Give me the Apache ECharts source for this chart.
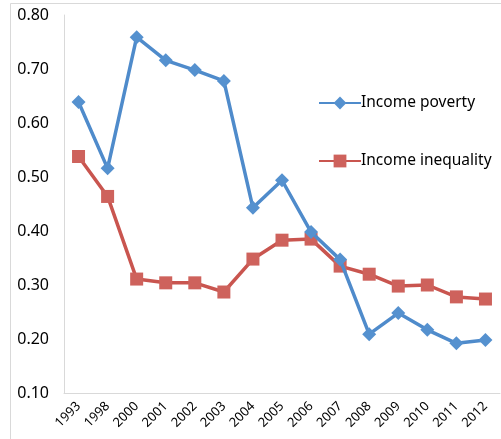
<!DOCTYPE html>
<html><head><meta charset="utf-8">
<script src="https://cdn.jsdelivr.net/npm/echarts@6/dist/echarts.min.js"></script>
<style>html,body{margin:0;padding:0;background:#fff}#c{width:501px;height:439px}</style>
</head><body><div id="c"></div>
<script>
var years = ['1993','1998','2000','2001','2002','2003','2004','2005','2006','2007','2008','2009','2010','2011','2012'];
var incomePoverty = [0.639, 0.516, 0.759, 0.716, 0.698, 0.678, 0.443, 0.494, 0.398, 0.347, 0.209, 0.248, 0.217, 0.192, 0.198];
var incomeInequality = [0.538, 0.464, 0.311, 0.304, 0.304, 0.287, 0.348, 0.383, 0.385, 0.335, 0.320, 0.298, 0.300, 0.278, 0.274];
var yTicks = [0.1, 0.8, 0.1]; // min, max, interval

var font = 'Noto Sans, Open Sans, sans-serif';
var chart = echarts.init(document.getElementById('c'), null, {renderer:'canvas'});
chart.setOption({
  animation:false,
  backgroundColor:'#fff',
  graphic:[{type:'rect', shape:{x:10.5,y:3.5,width:500,height:450}, style:{fill:'none',stroke:'#D9D9D9',lineWidth:1}, silent:true}],
  grid:{left:64, right:1, top:15, bottom:46, containLabel:false},
  legend:{
    orient:'vertical', left:313, top:90, itemGap:42, itemWidth:42, itemHeight:16, padding:5,
    textStyle:{fontFamily:font, fontSize:15.5, color:'#000', padding:[0,0,0,-5]},
    data:['Income poverty','Income inequality']
  },
  xAxis:{
    type:'category', data:years, boundaryGap:true,
    axisLine:{lineStyle:{color:'#D9D9D9',width:1}},
    axisTick:{show:false},
    axisLabel:{rotate:45, interval:0, color:'#000', fontFamily:font, fontSize:13, margin:11}
  },
  yAxis:{
    type:'value', min:yTicks[0], max:yTicks[1], interval:yTicks[2],
    axisLine:{show:true, lineStyle:{color:'#D9D9D9',width:1}},
    axisTick:{show:false},
    splitLine:{show:false},
    axisLabel:{color:'#000', fontFamily:font, fontSize:16, margin:15, formatter:function(v){return v.toFixed(2);}}
  },
  series:[
    {name:'Income poverty', type:'line', data:incomePoverty, symbol:'diamond', symbolSize:14,
     lineStyle:{color:'#4F8BCB', width:3.5}, itemStyle:{color:'#5591CF'}, z:3},
    {name:'Income inequality', type:'line', data:incomeInequality, symbol:'rect', symbolSize:13,
     lineStyle:{color:'#C9554F', width:3.5}, itemStyle:{color:'#CE625C'}, z:2}
  ]
});
</script></body></html>
